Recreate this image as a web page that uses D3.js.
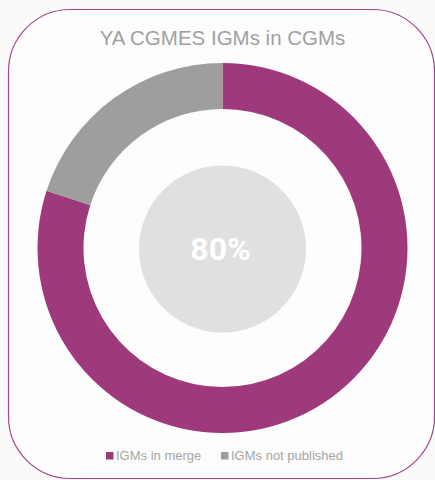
<!DOCTYPE html>
<html>
<head>
<meta charset="utf-8">
<script src="https://cdn.jsdelivr.net/npm/d3@7"></script>
<style>
  body { margin: 0; background: #fafafa; }
  svg { display: block; }
</style>
</head>
<body>
<svg id="chart" width="435" height="480"></svg>
<script>
// chart data
var labels = ["IGMs in merge", "IGMs not published"];
var values = [80, 20];
var colors = ["#9e3a7c", "#9e9e9e"];
var title = "YA CGMES IGMs in CGMs";
var centerText = "80%";

var svg = d3.select("#chart");

// card outline
svg.append("rect")
  .attr("x", 8.5).attr("y", 9.5)
  .attr("width", 426).attr("height", 469)
  .attr("rx", 62).attr("ry", 62)
  .attr("fill", "#fdfdfd")
  .attr("stroke", "#a4478a")
  .attr("stroke-width", 1.2);

svg.append("text")
  .attr("x", 222.5).attr("y", 45)
  .attr("text-anchor", "middle")
  .attr("font-family", "Liberation Sans, Arial, sans-serif")
  .attr("font-size", 20.5)
  .attr("fill", "#a0a0a0")
  .text(title);

var cx = 222.5, cy = 248;

var pie = d3.pie().sort(null).value(function (d) { return d; });
var arc = d3.arc().innerRadius(139).outerRadius(185);

var g = svg.append("g").attr("transform", "translate(" + cx + "," + cy + ")");

g.selectAll("path")
  .data(pie(values))
  .enter()
  .append("path")
  .attr("d", arc)
  .attr("fill", function (d, i) { return colors[i]; });

g.append("circle")
  .attr("cx", 0).attr("cy", 1)
  .attr("r", 83.5)
  .attr("fill", "#e0e0e0");

g.append("text")
  .attr("x", -2).attr("y", 12)
  .attr("text-anchor", "middle")
  .attr("font-family", "Roboto, sans-serif")
  .attr("font-weight", "bold")
  .attr("font-size", 32)
  .attr("fill", "#ffffff")
  .text(centerText);

// legend
var legendX = [106, 221];
var leg = svg.selectAll(".leg")
  .data(labels)
  .enter()
  .append("g")
  .attr("class", "leg")
  .attr("transform", function (d, i) { return "translate(" + legendX[i] + ",452)"; });

leg.append("rect")
  .attr("width", 7.5).attr("height", 7.5)
  .attr("fill", function (d, i) { return colors[i]; });

leg.append("text")
  .attr("x", 10).attr("y", 8)
  .attr("font-family", "Liberation Sans, Arial, sans-serif")
  .attr("font-size", 13)
  .attr("fill", "#a6a6a6")
  .text(function (d) { return d; });
</script>
</body>
</html>
